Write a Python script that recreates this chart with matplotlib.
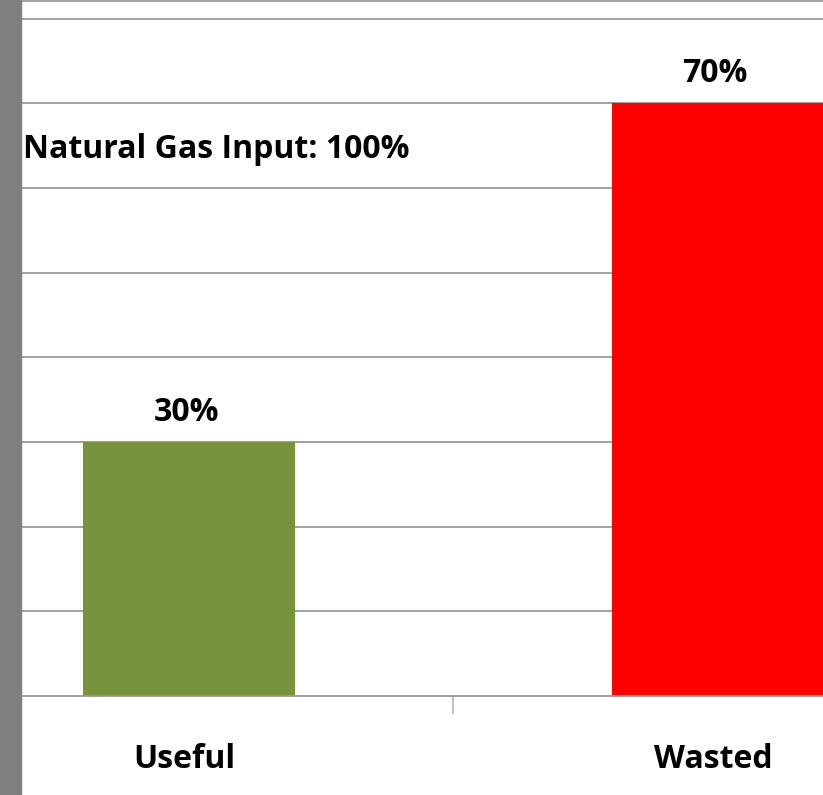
import matplotlib.pyplot as plt
from matplotlib.patches import Rectangle

categories = ["Useful", "Wasted"]
shares = [30, 70]
colors = ["#77933C", "#FF0000"]
gridlines = [10, 20, 30, 40, 50, 60, 70, 80]
note = "Natural Gas Input: 100%"

fig = plt.figure(figsize=(8.23, 7.95), dpi=100)
# gray strip on the left edge
fig.patches.append(Rectangle((0, 0), 21 / 823, 1, transform=fig.transFigure,
                             color="#808080", zorder=0))

ax = fig.add_axes([21 / 823, 99 / 795, 1 - 21 / 823, 1 - 99 / 795 - 1 / 795])
ax.set_xlim(-0.318, 1.2)
ax.set_ylim(0, 82.1)

for g in gridlines:
    ax.axhline(g, color="#999999", lw=1.3, zorder=1)

x = range(len(categories))
ax.bar(x, shares, width=0.40, color=colors, zorder=2)

for i, v in zip(x, shares):
    ax.text(i - 0.005, v + 2.5, f"{v}%", ha="center", va="baseline",
            fontsize=23, fontweight="bold", family="Open Sans")

ax.text(-0.314, 63.5, note, ha="left", va="baseline", fontsize=23,
        fontweight="bold", family="Open Sans")

for s in ["left", "right"]:
    ax.spines[s].set_visible(False)
ax.spines["top"].set_color("#999999")
ax.spines["top"].set_linewidth(1.3)
ax.spines["bottom"].set_color("#999999")
ax.spines["bottom"].set_linewidth(1.3)

ax.set_yticks([])
ax.set_xticks([0.5])
ax.set_xticklabels([""])
ax.tick_params(axis="x", length=13, width=1.3, color="#bbbbbb")
for i, c in zip(x, categories):
    ax.text(i - 0.008, -8.5, c, ha="center", va="baseline", fontsize=23,
            fontweight="bold", family="Open Sans")

fig.savefig("out.png", dpi=100)
